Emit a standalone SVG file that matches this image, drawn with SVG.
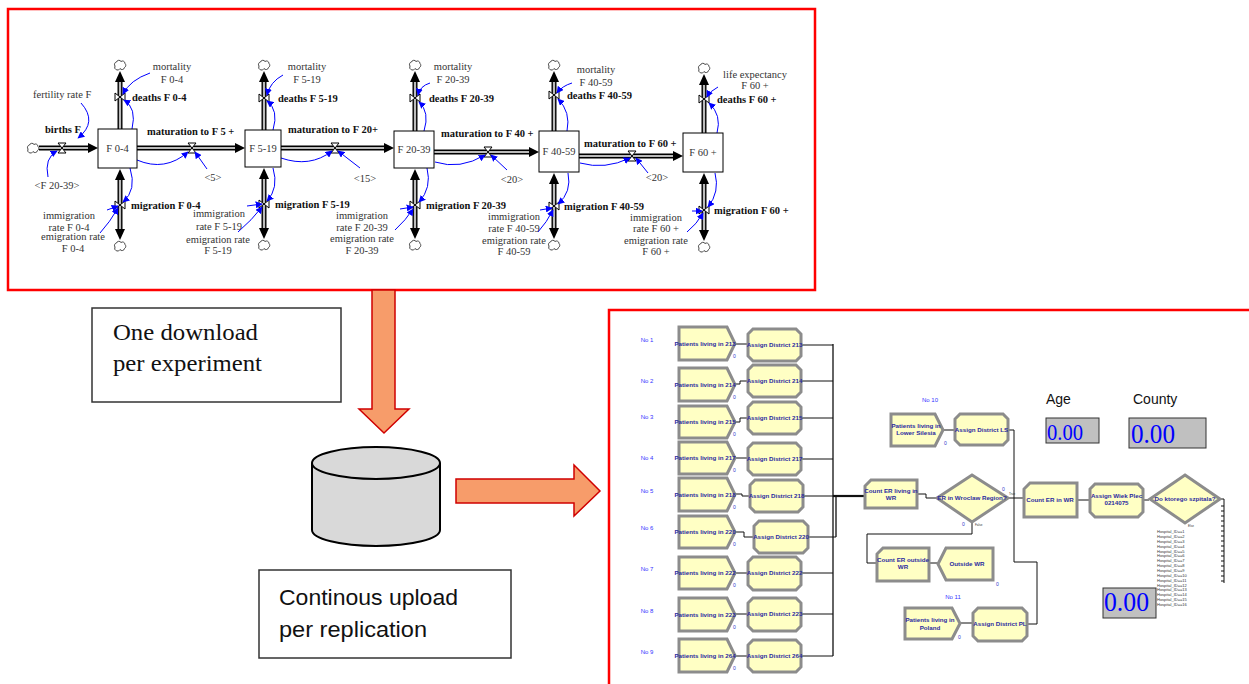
<svg xmlns="http://www.w3.org/2000/svg" xmlns:xlink="http://www.w3.org/1999/xlink" width="1249" height="684" viewBox="0 0 1249 684">
<style>
.sf{font-family:"Liberation Serif",serif;font-size:10.5px;fill:#333}
.sfc{font-family:"Liberation Serif",serif;font-size:10.5px;fill:#333;text-anchor:middle}
.sfb{font-family:"Liberation Serif",serif;font-size:10.5px;font-weight:bold;fill:#111}
.pipe{stroke:#000;stroke-width:5;fill:none}
.pipein{stroke:#bbb;stroke-width:2.2;fill:none}
.valve{fill:#fff;stroke:#000;stroke-width:1}
.link{stroke:#0000ff;stroke-width:1;fill:none;marker-end:url(#ba)}
.stock{fill:#fff;stroke:#000;stroke-width:1}
.cloud{fill:#fff;stroke:#333;stroke-width:0.9}
.mod{fill:#ffffc4;stroke:#8c8c8c;stroke-width:3}
.at{font-family:"Liberation Sans",sans-serif;font-size:6.2px;font-weight:bold;fill:#2b2ba0;text-anchor:middle}
.no{font-family:"Liberation Sans",sans-serif;font-size:6px;fill:#3333ff;text-anchor:middle}
.z{font-family:"Liberation Sans",sans-serif;font-size:5px;fill:#3333cc}
.tiny{font-family:"Liberation Sans",sans-serif;font-size:3px;fill:#333}
.hosp{font-family:"Liberation Sans",sans-serif;font-size:4px;fill:#333}
.con{stroke:#111;stroke-width:1;fill:none}
.orange{fill:#f79c6a;stroke:#d00000;stroke-width:1.5}
.disp{fill:#c0c0c0;stroke:#333;stroke-width:1}
.dv{font-family:"Liberation Serif",serif;fill:#0000ff}
</style>
<defs>
<marker id="ba" viewBox="0 0 10 10" refX="9" refY="5" markerWidth="7" markerHeight="7" orient="auto" markerUnits="userSpaceOnUse"><path d="M0,0 L10,5 L0,10 z" fill="#0000ff"/></marker>
<path id="cl" d="M-5,1 a2.5,2.5 0 0 1 1.5,-4 a2.5,2.5 0 0 1 4.5,-0.5 a2.5,2.5 0 0 1 4,2 a2.5,2.5 0 0 1 -0.5,4 a2.5,2.5 0 0 1 -4.5,1 a2.5,2.5 0 0 1 -5,-2.5z"/>
<path id="vh" d="M-4,-5 H4 L-4,5 H4 Z"/>
<path id="vv" d="M-5,-4 V4 L5,-4 V4 Z"/>
</defs>
<rect width="1249" height="684" fill="#fff"/>

<!-- frames -->
<rect x="8" y="9" width="807" height="281" fill="none" stroke="#ff0000" stroke-width="2.5"/>
<rect x="609" y="310" width="660" height="400" fill="none" stroke="#ff0000" stroke-width="2.5"/>

<!-- stock-flow connectors -->
<g id="sf-connectors">
<path class="pipe" d="M39,148 H88 M120,82 V129 M120,180 V229 M264,82 V130 M264,179 V228 M415,82 V131 M415,180 V228 M554,82 V131 M554,184 V228 M704,85 V133 M704,184 V230 M137,148 H235 M281,148 H384 M434,152 H529 M579,156 H673"/>
<path class="pipein" d="M39,148 H88 M120,82 V129 M120,180 V229 M264,82 V130 M264,179 V228 M415,82 V131 M415,180 V228 M554,82 V131 M554,184 V228 M704,85 V133 M704,184 V230 M137,148 H235 M281,148 H384 M434,152 H529 M579,156 H673"/>
<g fill="#000">
<polygon points="88,143 98,148 88,153"/>
<polygon points="235,143 245,148 235,153"/>
<polygon points="384,143 394,148 384,153"/>
<polygon points="529,147 539,152 529,157"/>
<polygon points="673,151 683,156 673,161"/>
<polygon points="115,82 120,71 125,82"/><polygon points="259,82 264,71 269,82"/><polygon points="410,82 415,71 420,82"/><polygon points="549,82 554,71 559,82"/><polygon points="699,85 704,74 709,85"/>
<polygon points="115,180 120,169 125,180"/><polygon points="259,179 264,168 269,179"/><polygon points="410,180 415,169 420,180"/><polygon points="549,184 554,173 559,184"/><polygon points="699,184 704,173 709,184"/>
<polygon points="115,229 120,240 125,229"/><polygon points="259,228 264,239 269,228"/><polygon points="410,228 415,239 420,228"/><polygon points="549,228 554,239 559,228"/><polygon points="699,230 704,241 709,230"/>
</g>
<g class="cloud">
<use href="#cl" x="33" y="148"/>
<use href="#cl" x="120" y="65"/><use href="#cl" x="120" y="246"/>
<use href="#cl" x="264" y="65"/><use href="#cl" x="264" y="245"/>
<use href="#cl" x="415" y="65"/><use href="#cl" x="415" y="245"/>
<use href="#cl" x="554" y="65"/><use href="#cl" x="554" y="245"/>
<use href="#cl" x="704" y="68"/><use href="#cl" x="704" y="247"/>
</g>
<g class="valve">
<use href="#vh" x="62" y="148"/><use href="#vh" x="192" y="148"/><use href="#vh" x="335" y="148"/><use href="#vh" x="488" y="152"/><use href="#vh" x="632" y="156"/>
<use href="#vv" x="120" y="97"/><use href="#vv" x="120" y="205"/>
<use href="#vv" x="264" y="98"/><use href="#vv" x="264" y="204"/>
<use href="#vv" x="415" y="98"/><use href="#vv" x="415" y="205"/>
<use href="#vv" x="554" y="95"/><use href="#vv" x="554" y="206"/>
<use href="#vv" x="704" y="99"/><use href="#vv" x="704" y="210"/>
</g>
<!-- info links -->
<path class="link" d="M81,103 Q98,122 78,138"/>
<path class="link" d="M48,177 Q44,158 57,151"/>
<path class="link" d="M137,160 Q165,172 188,152"/>
<path class="link" d="M207,169 L195,152"/>
<path class="link" d="M150,73 Q130,80 123,94"/>
<path class="link" d="M132,129 Q137,108 124,100"/>
<path class="link" d="M130,168 Q137,190 123,202"/>
<path class="link" d="M107,210 L118,206"/>
<path class="link" d="M100,233 Q110,222 118,208"/>

<path class="link" d="M283,75 Q270,82 267,95"/>
<path class="link" d="M273,130 Q279,110 267,101"/>
<path class="link" d="M273,168 Q279,188 267,201"/>
<path class="link" d="M247,206 L262,204"/>
<path class="link" d="M238,232 Q252,220 262,207"/>
<path class="link" d="M281,158 Q310,168 332,151"/>
<path class="link" d="M360,168 L338,151"/>

<path class="link" d="M430,83 Q420,86 418,95"/>
<path class="link" d="M424,131 Q430,112 419,102"/>
<path class="link" d="M427,168 Q432,188 419,202"/>
<path class="link" d="M400,209 L413,207"/>
<path class="link" d="M395,230 Q406,220 413,209"/>
<path class="link" d="M435,162 Q460,170 485,155"/>
<path class="link" d="M507,170 L491,155"/>

<path class="link" d="M572,83 Q562,86 557,93"/>
<path class="link" d="M567,131 Q571,112 558,99"/>
<path class="link" d="M568,173 Q572,192 558,204"/>
<path class="link" d="M540,210 L552,208"/>
<path class="link" d="M538,232 Q547,222 553,210"/>
<path class="link" d="M580,163 Q605,170 630,158"/>
<path class="link" d="M648,173 L636,158"/>

<path class="link" d="M718,87 Q710,91 707,97"/>
<path class="link" d="M717,133 Q722,115 709,103"/>
<path class="link" d="M715,173 Q720,192 708,207"/>
<path class="link" d="M692,211 L702,211"/>
<path class="link" d="M687,232 Q697,224 703,213"/>
</g>

<!-- stocks -->
<g id="stock-f0-4"><rect class="stock" x="98" y="129" width="39" height="39"/><text class="sfc" x="117.5" y="152" font-size="11">F 0-4</text></g>
<g id="stock-f5-19"><rect class="stock" x="245" y="130" width="36" height="37"/><text class="sfc" x="263" y="152" font-size="11">F 5-19</text></g>
<g id="stock-f20-39"><rect class="stock" x="394" y="131" width="40" height="37"/><text class="sfc" x="414" y="153" font-size="11">F 20-39</text></g>
<g id="stock-f40-59"><rect class="stock" x="539" y="131" width="40" height="41"/><text class="sfc" x="559" y="155" font-size="11">F 40-59</text></g>
<g id="stock-f60"><rect class="stock" x="683" y="133" width="40" height="39"/><text class="sfc" x="703" y="156" font-size="11">F 60 +</text></g>

<!-- stock-flow labels -->
<g id="sf-labels">
<text class="sfb" x="45" y="133">births F</text>
<text class="sf" x="33" y="98">fertility rate F</text>
<text class="sfc" x="57" y="189">&lt;F 20-39&gt;</text>

<text class="sfc" x="172" y="70">mortality</text><text class="sfc" x="172" y="83">F 0-4</text>
<text class="sfb" x="132" y="101">deaths F 0-4</text>
<text class="sfb" x="131" y="209">migration F 0-4</text>
<text class="sfc" x="69" y="219">immigration</text><text class="sfc" x="69" y="231">rate F 0-4</text>
<text class="sfc" x="73" y="240">emigration rate</text><text class="sfc" x="73" y="252">F 0-4</text>
<text class="sfb" x="147" y="135">maturation to F 5 +</text>
<text class="sfc" x="213" y="181">&lt;5&gt;</text>

<text class="sfc" x="307" y="70">mortality</text><text class="sfc" x="307" y="83">F 5-19</text>
<text class="sfb" x="278" y="102">deaths F 5-19</text>
<text class="sfb" x="275" y="208">migration F 5-19</text>
<text class="sfc" x="219" y="217">immigration</text><text class="sfc" x="219" y="230">rate F 5-19</text>
<text class="sfc" x="218" y="243">emigration rate</text><text class="sfc" x="218" y="254">F 5-19</text>
<text class="sfb" x="288" y="133">maturation to F 20+</text>
<text class="sfc" x="365" y="182">&lt;15&gt;</text>

<text class="sfc" x="453" y="70">mortality</text><text class="sfc" x="453" y="83">F 20-39</text>
<text class="sfb" x="429" y="102">deaths F 20-39</text>
<text class="sfb" x="426" y="209">migration F 20-39</text>
<text class="sfc" x="362" y="219">immigration</text><text class="sfc" x="362" y="231">rate F 20-39</text>
<text class="sfc" x="362" y="242">emigration rate</text><text class="sfc" x="362" y="254">F 20-39</text>
<text class="sfb" x="441" y="137">maturation to F 40 +</text>
<text class="sfc" x="512" y="183">&lt;20&gt;</text>

<text class="sfc" x="596" y="73">mortality</text><text class="sfc" x="596" y="86">F 40-59</text>
<text class="sfb" x="567" y="99">deaths F 40-59</text>
<text class="sfb" x="564" y="210">migration F 40-59</text>
<text class="sfc" x="514" y="220">immigration</text><text class="sfc" x="514" y="232">rate F 40-59</text>
<text class="sfc" x="514" y="244">emigration rate</text><text class="sfc" x="514" y="255">F 40-59</text>
<text class="sfb" x="584" y="147">maturation to F 60 +</text>
<text class="sfc" x="657" y="181">&lt;20&gt;</text>

<text class="sfc" x="755" y="78">life expectancy</text><text class="sfc" x="755" y="89">F 60 +</text>
<text class="sfb" x="717" y="103">deaths F 60 +</text>
<text class="sfb" x="714" y="214">migration F 60 +</text>
<text class="sfc" x="656" y="221">immigration</text><text class="sfc" x="656" y="232">rate F 60 +</text>
<text class="sfc" x="656" y="244">emigration rate</text><text class="sfc" x="656" y="255">F 60 +</text>
</g>

<!-- middle: arrows, database, notes -->
<g id="down-arrow"><polygon class="orange" points="372,290 395,290 395,409 409,409 384,433 359,409 372,409"/></g>
<g id="right-arrow"><polygon class="orange" points="456,479 574,479 574,465 600,491 574,516 574,503 456,503"/></g>
<g id="database">
<path d="M312,463 V530 A64,16 0 0 0 440,530 V463" fill="#d9d9d9" stroke="#000" stroke-width="2"/>
<ellipse cx="376" cy="463" rx="64" ry="16" fill="#d9d9d9" stroke="#000" stroke-width="2"/>
</g>
<g id="note-download">
<rect x="92" y="308" width="249" height="94" fill="#fff" stroke="#333" stroke-width="1.5"/>
<text x="113" y="340" font-family="Liberation Serif, serif" font-size="24" fill="#111" textLength="145" lengthAdjust="spacingAndGlyphs">One download</text>
<text x="113" y="371" font-family="Liberation Serif, serif" font-size="24" fill="#111" textLength="149" lengthAdjust="spacingAndGlyphs">per experiment</text>
</g>
<g id="note-upload">
<rect x="259" y="570" width="252" height="88" fill="#fff" stroke="#333" stroke-width="1.5"/>
<text x="279" y="605" font-family="Liberation Sans, sans-serif" font-size="22" fill="#111" textLength="179" lengthAdjust="spacingAndGlyphs">Continous upload</text>
<text x="279" y="637" font-family="Liberation Sans, sans-serif" font-size="22" fill="#111" textLength="148" lengthAdjust="spacingAndGlyphs">per replication</text>
</g>

<!-- Arena connectors -->
<g id="arena-connectors" class="con">
<path d="M735,344 H748"/>
<path d="M735,384 H740 V381 H748"/>
<path d="M735,422 H740 V418 H748"/>
<path d="M735,458 H748"/>
<path d="M735,494 H742 V496 H750"/>
<path d="M735,532 H744 V537 H754"/>
<path d="M735,573 H748"/>
<path d="M735,614 H748"/>
<path d="M735,656 H748"/>
<path d="M801,345 H833 M801,381 H833 M801,418 H833 M801,459 H833 M803,496 H833 M808,537 H836 M801,573 H833 M801,614 H833 M801,656 H833"/>
<path d="M833,344 V656 M836,496 V537" stroke-width="1.3"/>
<path d="M833,496 H865" stroke-width="2.2"/>
<path d="M937,498 H926 V494 H917"/>
<path d="M943,430 H955"/>
<path d="M1008,430 H1014 V562 H1037 V624 H1027"/>
<path d="M1008,498 H1024"/>
<path d="M960,623 H973"/>
<path d="M972,522 V534 H867 V563 H877"/>
<path d="M929,563 H938"/>
<path d="M1077,500 H1090"/>
<path d="M1143,500 H1149"/>
<path d="M1220,499 H1224 V583"/>
<path d="M1221,506 H1224 M1221,511 H1224 M1221,516 H1224 M1221,521 H1224 M1221,526 H1224 M1221,531 H1224 M1221,536 H1224 M1221,541 H1224 M1221,546 H1224 M1221,551 H1224 M1221,556 H1224 M1221,561 H1224 M1221,566 H1224 M1221,571 H1224 M1221,576 H1224 M1221,581 H1224" stroke-width="1.2"/>
</g>

<!-- Arena row labels -->
<g id="row-labels">
<text class="no" x="647" y="342">No 1</text>
<text class="no" x="647" y="383">No 2</text>
<text class="no" x="647" y="419">No 3</text>
<text class="no" x="647" y="460">No 4</text>
<text class="no" x="647" y="493">No 5</text>
<text class="no" x="647" y="530">No 6</text>
<text class="no" x="647" y="571">No 7</text>
<text class="no" x="647" y="613">No 8</text>
<text class="no" x="647" y="654">No 9</text>
<text class="no" x="930" y="402">No 10</text>
<text class="no" x="953" y="599">No 11</text>
</g>

<!-- create modules -->
<g id="create-213"><path class="mod" d="M679,327 H727 L735,343.5 L727,360 H679 Z"/><text class="at" x="705" y="345.5">Patients living in 213</text><text class="z" x="733" y="358">0</text></g>
<g id="create-214"><path class="mod" d="M679,368 H727 L735,384.5 L727,401 H679 Z"/><text class="at" x="705" y="386.5">Patients living in 214</text><text class="z" x="733" y="399">0</text></g>
<g id="create-215"><path class="mod" d="M679,406 H727 L735,422 L727,438 H679 Z"/><text class="at" x="705" y="424">Patients living in 215</text><text class="z" x="733" y="436">0</text></g>
<g id="create-217"><path class="mod" d="M679,442 H727 L735,458 L727,474 H679 Z"/><text class="at" x="705" y="460">Patients living in 217</text><text class="z" x="733" y="472">0</text></g>
<g id="create-218"><path class="mod" d="M679,478 H727 L735,494.5 L727,511 H679 Z"/><text class="at" x="705" y="496.5">Patients living in 218</text><text class="z" x="733" y="509">0</text></g>
<g id="create-220"><path class="mod" d="M679,516 H727 L735,532 L727,548 H679 Z"/><text class="at" x="705" y="534">Patients living in 220</text><text class="z" x="733" y="546">0</text></g>
<g id="create-222"><path class="mod" d="M679,557 H727 L735,573 L727,589 H679 Z"/><text class="at" x="705" y="575">Patients living in 222</text><text class="z" x="733" y="587">0</text></g>
<g id="create-223"><path class="mod" d="M679,598 H727 L735,614.5 L727,631 H679 Z"/><text class="at" x="705" y="616.5">Patients living in 223</text><text class="z" x="733" y="629">0</text></g>
<g id="create-264"><path class="mod" d="M679,639 H727 L735,655.5 L727,672 H679 Z"/><text class="at" x="705" y="657.5">Patients living in 264</text><text class="z" x="733" y="670">0</text></g>

<!-- assign modules -->
<g id="assign-213"><path class="mod" d="M753,329 H796 L801,334 V356 L796,361 H753 L748,356 V334 Z"/><text class="at" x="774.5" y="347">Assign District 213</text></g>
<g id="assign-214"><path class="mod" d="M753,365 H796 L801,370 V392 L796,397 H753 L748,392 V370 Z"/><text class="at" x="774.5" y="383">Assign District 214</text></g>
<g id="assign-215"><path class="mod" d="M753,402 H796 L801,407 V429 L796,434 H753 L748,429 V407 Z"/><text class="at" x="774.5" y="420">Assign District 215</text></g>
<g id="assign-217"><path class="mod" d="M753,443 H796 L801,448 V470 L796,475 H753 L748,470 V448 Z"/><text class="at" x="774.5" y="461">Assign District 217</text></g>
<g id="assign-218"><path class="mod" d="M755,480 H798 L803,485 V507 L798,512 H755 L750,507 V485 Z"/><text class="at" x="776.5" y="498">Assign District 218</text></g>
<g id="assign-220"><path class="mod" d="M759,521 H803 L808,526 V548 L803,553 H759 L754,548 V526 Z"/><text class="at" x="781" y="539">Assign District 220</text></g>
<g id="assign-222"><path class="mod" d="M753,557 H796 L801,562 V585 L796,590 H753 L748,585 V562 Z"/><text class="at" x="774.5" y="575">Assign District 222</text></g>
<g id="assign-223"><path class="mod" d="M753,598 H796 L801,603 V626 L796,631 H753 L748,626 V603 Z"/><text class="at" x="774.5" y="616">Assign District 223</text></g>
<g id="assign-264"><path class="mod" d="M753,640 H796 L801,645 V667 L796,672 H753 L748,667 V645 Z"/><text class="at" x="774.5" y="658">Assign District 264</text></g>

<!-- middle Arena modules -->
<g id="count-er-living"><path class="mod" d="M871,480 H917 V508 H865 V486 Z"/><text class="at" x="891" y="493">Count ER living in</text><text class="at" x="891" y="500">WR</text></g>
<g id="decide-er-wr"><path class="mod" d="M972,475 L1008,498 L972,522 L937,498 Z"/><text class="at" x="972" y="500" font-size="6.5">ER in Wroclaw Region?</text><text class="tiny" x="1009" y="495">True</text><text class="tiny" x="975" y="526">False</text><text class="z" x="1002" y="491">0</text><text class="z" x="962" y="526">0</text></g>
<g id="create-lower-silesia"><path class="mod" d="M891,414 H935 L943,430 L935,446 H891 Z"/><text class="at" x="916" y="428">Patients living in</text><text class="at" x="916" y="435">Lower Silesia</text><text class="z" x="944" y="445">0</text></g>
<g id="assign-ls"><path class="mod" d="M960,414 H1003 L1008,419 V440 L1003,445 H960 L955,440 V419 Z"/><text class="at" x="981.5" y="432">Assign District LS</text></g>
<g id="count-er-wr"><path class="mod" d="M1030,483 H1077 V517 H1024 V489 Z"/><text class="at" x="1050" y="502">Count ER in WR</text></g>
<g id="assign-wiek"><path class="mod" d="M1095,484 H1138 L1143,489 V512 L1138,517 H1095 L1090,512 V489 Z"/><text class="at" x="1116.5" y="498">Assign Wiek Plec</text><text class="at" x="1116.5" y="505">0214075</text></g>
<g id="decide-szpital"><path class="mod" d="M1185,475 L1220,499 L1185,523 L1150,499 Z"/><text class="at" x="1185" y="501" font-size="6.8">Do ktorego szpitala?</text><text class="tiny" x="1188" y="527">Else</text></g>
<g id="count-er-outside"><path class="mod" d="M883,548 H929 V581 H877 V554 Z"/><text class="at" x="903" y="562">Count ER outside</text><text class="at" x="903" y="569">WR</text></g>
<g id="dispose-outside"><path class="mod" d="M946,548 H993 V580 H946 L938,564 Z"/><text class="at" x="967" y="566">Outside WR</text><text class="z" x="996" y="586">0</text></g>
<g id="create-poland"><path class="mod" d="M905,608 H952 L960,623.5 L952,639 H905 Z"/><text class="at" x="930" y="622">Patients living in</text><text class="at" x="930" y="630">Poland</text><text class="z" x="958" y="639">0</text></g>
<g id="assign-pl"><path class="mod" d="M978,608 H1022 L1027,613 V636 L1022,641 H978 L973,636 V613 Z"/><text class="at" x="1000" y="626">Assign District PL</text></g>

<!-- hospital list -->
<g id="hospital-list" class="hosp">
<text x="1157" y="533">Hospital_ID==1</text>
<text x="1157" y="538">Hospital_ID==2</text>
<text x="1157" y="543">Hospital_ID==3</text>
<text x="1157" y="548">Hospital_ID==4</text>
<text x="1157" y="553">Hospital_ID==5</text>
<text x="1157" y="557">Hospital_ID==6</text>
<text x="1157" y="562">Hospital_ID==7</text>
<text x="1157" y="567">Hospital_ID==8</text>
<text x="1157" y="572">Hospital_ID==9</text>
<text x="1157" y="577">Hospital_ID==10</text>
<text x="1157" y="582">Hospital_ID==11</text>
<text x="1157" y="587">Hospital_ID==12</text>
<text x="1157" y="591">Hospital_ID==13</text>
<text x="1157" y="596">Hospital_ID==14</text>
<text x="1157" y="601">Hospital_ID==15</text>
<text x="1157" y="606">Hospital_ID==16</text>
</g>

<!-- displays -->
<g id="age-display">
<text x="1046" y="404" font-family="Liberation Sans, sans-serif" font-size="14" fill="#111">Age</text>
<rect class="disp" x="1046" y="418" width="53" height="25"/>
<text class="dv" x="1047" y="440" font-size="24" textLength="36" lengthAdjust="spacingAndGlyphs">0.00</text>
</g>
<g id="county-display">
<text x="1133" y="404" font-family="Liberation Sans, sans-serif" font-size="14" fill="#111">County</text>
<rect class="disp" x="1129" y="418" width="77" height="30"/>
<text class="dv" x="1131" y="443" font-size="28" textLength="44" lengthAdjust="spacingAndGlyphs">0.00</text>
</g>
<g id="third-display">
<rect class="disp" x="1103" y="588" width="53" height="30"/>
<text class="dv" x="1104" y="611" font-size="28" textLength="45" lengthAdjust="spacingAndGlyphs">0.00</text>
</g>
</svg>
